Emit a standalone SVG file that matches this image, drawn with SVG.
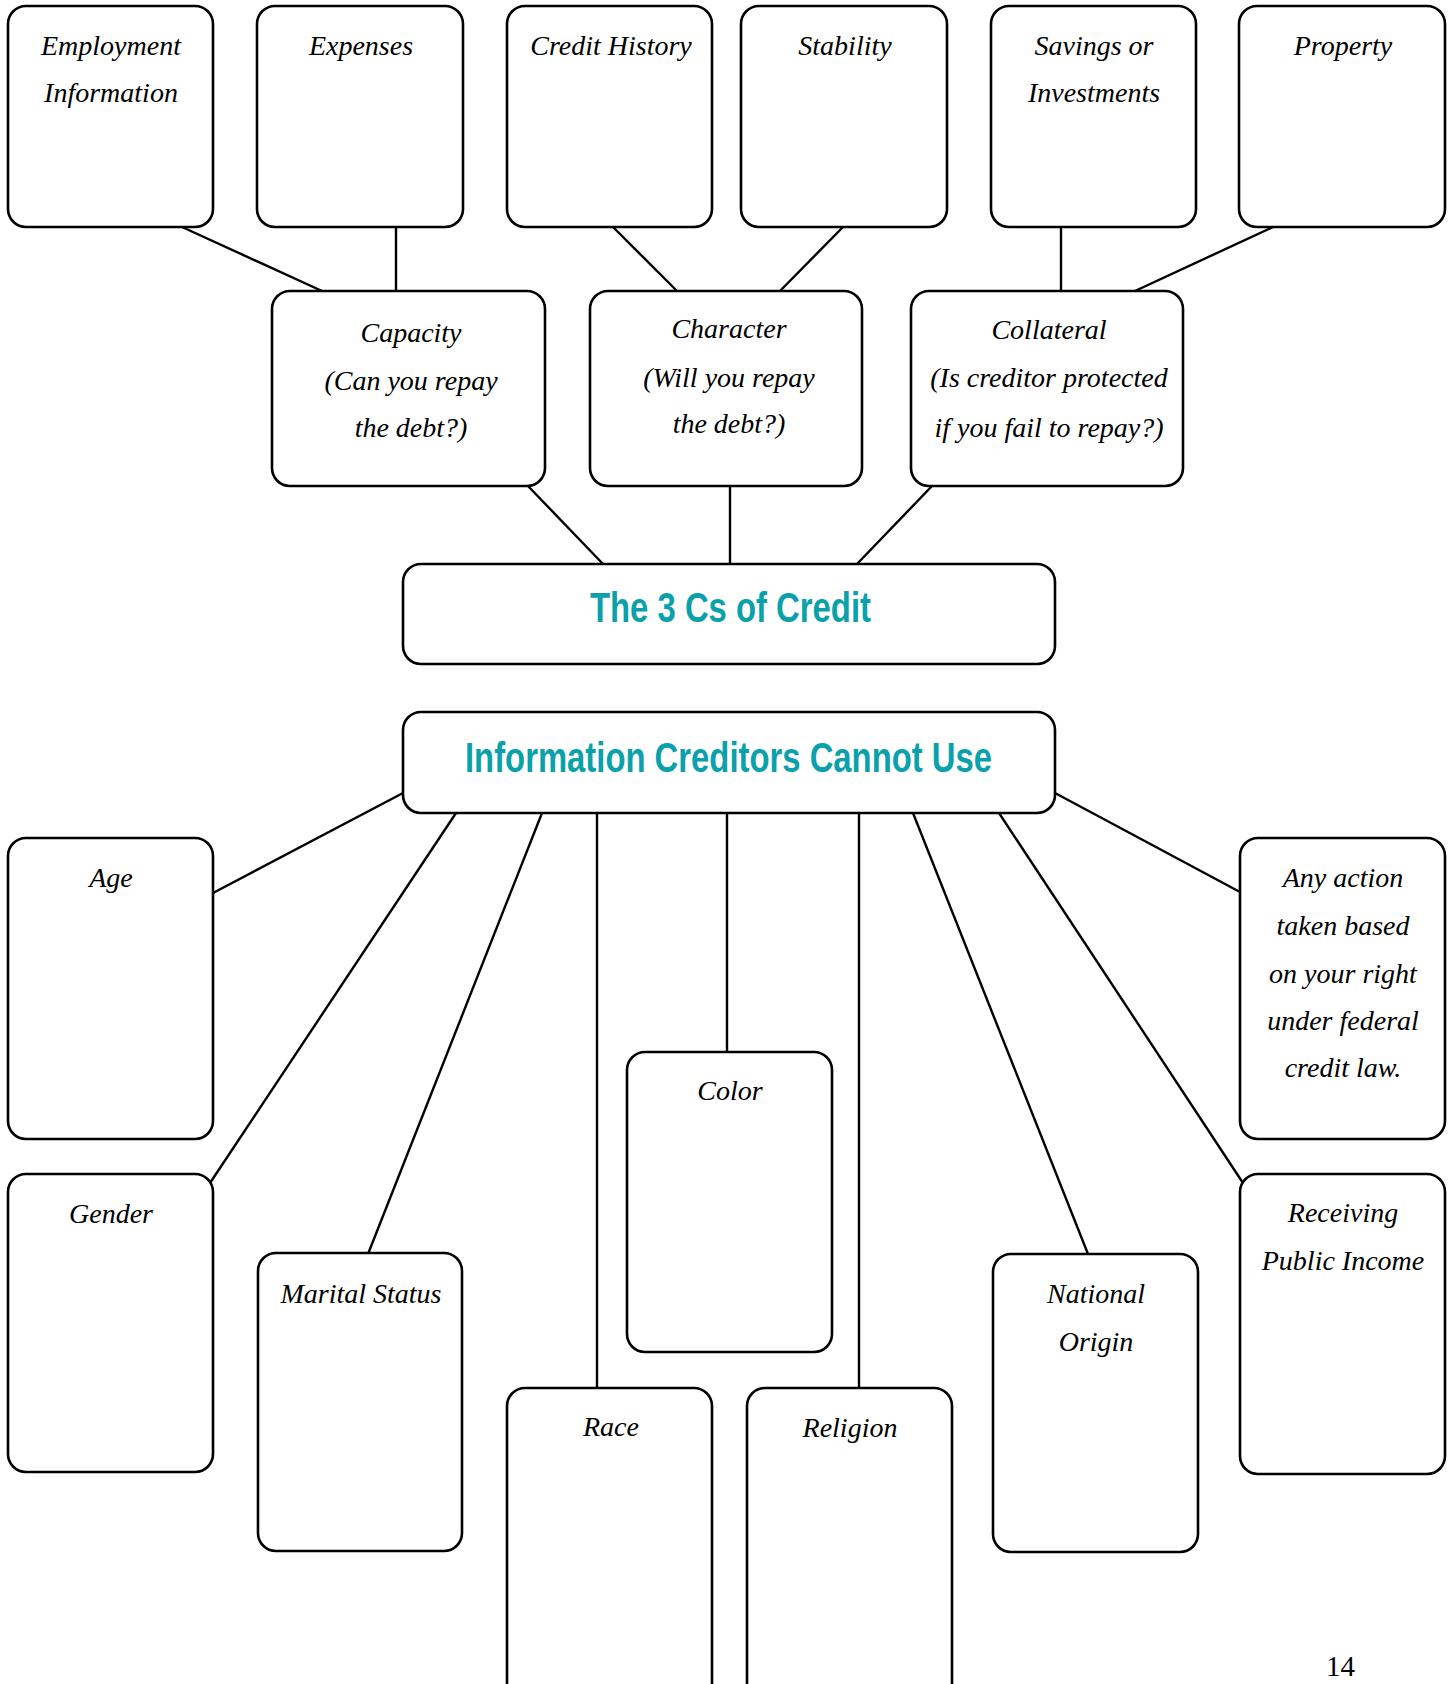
<svg xmlns="http://www.w3.org/2000/svg" width="1453" height="1684" viewBox="0 0 1453 1684">
<style>
.box{fill:#fff;stroke:#000;stroke-width:2.6}
.con line{stroke:#000;stroke-width:2.4}
.hw{font-family:"Liberation Serif","Times New Roman",serif;font-style:italic;font-size:28px;fill:#000;text-anchor:middle}
.ttl{font-family:"Liberation Sans",Arial,sans-serif;font-weight:bold;font-size:42px;fill:#0aa1ab}
.pg{font-family:"Liberation Serif","Times New Roman",serif;font-size:29px;fill:#000}
</style>
<rect width="1453" height="1684" fill="#fff"/>
<g id="connectors" class="con">
<line x1="182" y1="227" x2="322" y2="291"/>
<line x1="396" y1="227" x2="396" y2="291"/>
<line x1="613" y1="227" x2="677" y2="291"/>
<line x1="843" y1="227" x2="780" y2="291"/>
<line x1="1061" y1="227" x2="1061" y2="291"/>
<line x1="1273" y1="227" x2="1135" y2="291"/>
<line x1="528" y1="486" x2="603" y2="564"/>
<line x1="730" y1="486" x2="730" y2="564"/>
<line x1="932" y1="486" x2="857" y2="564"/>
<line x1="403" y1="793" x2="213" y2="893"/>
<line x1="1055" y1="793" x2="1240" y2="892"/>
<line x1="456" y1="813" x2="210" y2="1183"/>
<line x1="542" y1="813" x2="368" y2="1254"/>
<line x1="597" y1="813" x2="597" y2="1388"/>
<line x1="727" y1="813" x2="727" y2="1052"/>
<line x1="859" y1="813" x2="859" y2="1388"/>
<line x1="913" y1="813" x2="1088" y2="1254"/>
<line x1="999" y1="813" x2="1243" y2="1183"/>
</g>
<g id="employment"><rect class="box" x="8" y="6" width="205" height="221" rx="18"/><text class="hw" x="111" y="55">Employment</text><text class="hw" x="111" y="102">Information</text></g>
<g id="expenses"><rect class="box" x="257" y="6" width="206" height="221" rx="18"/><text class="hw" x="361" y="55">Expenses</text></g>
<g id="credit-history"><rect class="box" x="507" y="6" width="205" height="221" rx="18"/><text class="hw" x="611" y="55">Credit History</text></g>
<g id="stability"><rect class="box" x="741" y="6" width="206" height="221" rx="18"/><text class="hw" x="845" y="55">Stability</text></g>
<g id="savings"><rect class="box" x="991" y="6" width="205" height="221" rx="18"/><text class="hw" x="1094" y="55">Savings or</text><text class="hw" x="1094" y="102">Investments</text></g>
<g id="property"><rect class="box" x="1239" y="6" width="206" height="221" rx="18"/><text class="hw" x="1343" y="55">Property</text></g>
<g id="capacity"><rect class="box" x="272" y="291" width="273" height="195" rx="18"/><text class="hw" x="411" y="342">Capacity</text><text class="hw" x="411" y="390">(Can you repay</text><text class="hw" x="411" y="437">the debt?)</text></g>
<g id="character"><rect class="box" x="590" y="291" width="272" height="195" rx="18"/><text class="hw" x="729" y="338">Character</text><text class="hw" x="729" y="387">(Will you repay</text><text class="hw" x="729" y="433">the debt?)</text></g>
<g id="collateral"><rect class="box" x="911" y="291" width="272" height="195" rx="18"/><text class="hw" x="1049" y="339">Collateral</text><text class="hw" x="1049" y="387">(Is creditor protected</text><text class="hw" x="1049" y="437">if you fail to repay?)</text></g>
<g id="three-cs"><rect class="box" x="403" y="564" width="652" height="100" rx="18"/><text class="ttl" x="590" y="622" textLength="281" lengthAdjust="spacingAndGlyphs">The 3 Cs of Credit</text></g>
<g id="info-cannot-use"><rect class="box" x="403" y="712" width="652" height="101" rx="18"/><text class="ttl" x="465" y="772" textLength="527" lengthAdjust="spacingAndGlyphs">Information Creditors Cannot Use</text></g>
<g id="age"><rect class="box" x="8" y="838" width="205" height="301" rx="18"/><text class="hw" x="111" y="887">Age</text></g>
<g id="any-action"><rect class="box" x="1240" y="838" width="205" height="301" rx="18"/><text class="hw" x="1343" y="887">Any action</text><text class="hw" x="1343" y="935">taken based</text><text class="hw" x="1343" y="983">on your right</text><text class="hw" x="1343" y="1030">under federal</text><text class="hw" x="1343" y="1077">credit law.</text></g>
<g id="gender"><rect class="box" x="8" y="1174" width="205" height="298" rx="18"/><text class="hw" x="111" y="1223">Gender</text></g>
<g id="receiving"><rect class="box" x="1240" y="1174" width="205" height="300" rx="18"/><text class="hw" x="1343" y="1222">Receiving</text><text class="hw" x="1343" y="1270">Public Income</text></g>
<g id="marital-status"><rect class="box" x="258" y="1253" width="204" height="298" rx="18"/><text class="hw" x="361" y="1303">Marital Status</text></g>
<g id="national-origin"><rect class="box" x="993" y="1254" width="205" height="298" rx="18"/><text class="hw" x="1096" y="1303">National</text><text class="hw" x="1096" y="1351">Origin</text></g>
<g id="color"><rect class="box" x="627" y="1052" width="205" height="300" rx="18"/><text class="hw" x="730" y="1100">Color</text></g>
<g id="race"><rect class="box" x="507" y="1388" width="205" height="330" rx="18"/><text class="hw" x="611" y="1436">Race</text></g>
<g id="religion"><rect class="box" x="747" y="1388" width="205" height="330" rx="18"/><text class="hw" x="850" y="1437">Religion</text></g>
<text class="pg" x="1326" y="1676">14</text>
</svg>
